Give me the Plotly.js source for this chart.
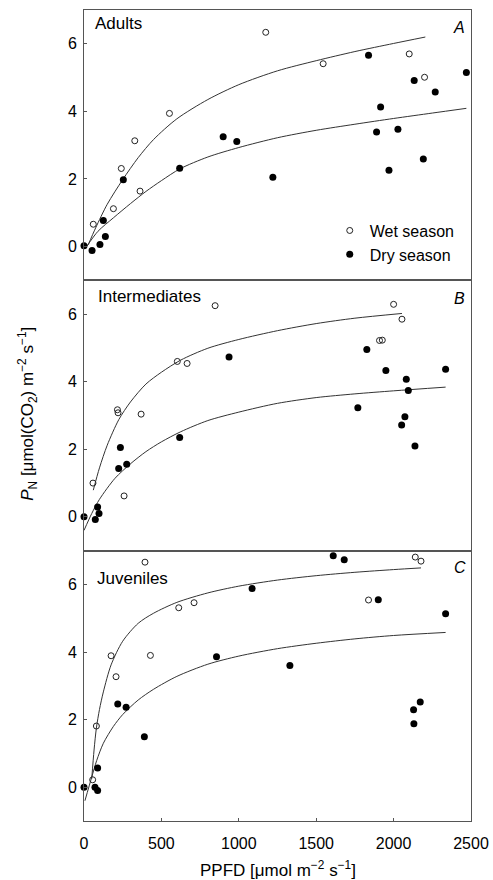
<!DOCTYPE html>
<html>
<head>
<meta charset="utf-8">
<script src="https://cdn.plot.ly/plotly-3.0.1.min.js"></script>
<style>html,body{margin:0;padding:0;background:#fff;}#chart{width:493px;height:880px;}</style>
</head>
<body>
<div id="chart"></div>
<script>
// ---- Data ----
const xTicks = [0, 500, 1000, 1500, 2000, 2500];
const yTicks = [0, 2, 4, 6];
const panelNames = ["Adults", "Intermediates", "Juveniles"];
const panelLetters = ["A", "B", "C"];
const seasonNames = ["Wet season", "Dry season"];

// Adults
const adultsWetX = [60, 190, 241, 328, 362, 552, 1174, 1545, 2101, 2200];
const adultsWetY = [0.66, 1.12, 2.31, 3.13, 1.64, 3.94, 6.34, 5.41, 5.70, 5.01];
const adultsDryX = [0, 52, 103, 125, 138, 254, 618, 899, 987, 1220, 1838, 1890, 1916, 1970, 2028, 2133, 2192, 2269, 2470];
const adultsDryY = [0.02, -0.12, 0.06, 0.77, 0.30, 1.98, 2.32, 3.25, 3.11, 2.05, 5.66, 3.39, 4.13, 2.26, 3.47, 4.91, 2.59, 4.57, 5.15];
const adultsWetFitX = [27, 75, 150, 250, 350, 450, 600, 800, 1000, 1250, 1500, 1750, 2000, 2205];
const adultsWetFitY = [0.05, 0.55, 1.25, 1.98, 2.63, 3.17, 3.78, 4.35, 4.79, 5.20, 5.50, 5.77, 6.01, 6.20];
const adultsDryFitX = [17, 90, 190, 300, 400, 500, 620, 800, 1000, 1250, 1500, 1750, 2000, 2250, 2470];
const adultsDryFitY = [0.00, 0.45, 0.85, 1.27, 1.63, 1.95, 2.30, 2.65, 2.93, 3.22, 3.44, 3.62, 3.79, 3.95, 4.09];

// Intermediates
const interWetX = [58, 216, 220, 259, 369, 603, 666, 847, 1909, 1927, 2000, 2054];
const interWetY = [1.00, 3.17, 3.08, 0.62, 3.04, 4.60, 4.54, 6.25, 5.22, 5.23, 6.29, 5.85];
const interDryX = [0, 73, 88, 97, 224, 235, 276, 618, 937, 1769, 1827, 1950, 2052, 2073, 2082, 2095, 2138, 2336];
const interDryY = [0.00, -0.08, 0.29, 0.10, 1.43, 2.05, 1.56, 2.35, 4.73, 3.23, 4.95, 4.33, 2.72, 2.96, 4.07, 3.74, 2.10, 4.37];
const interWetFitX = [60, 100, 150, 225, 300, 400, 500, 625, 800, 1000, 1250, 1500, 1750, 2054];
const interWetFitY = [0.79, 1.45, 2.12, 2.88, 3.40, 3.93, 4.28, 4.64, 4.99, 5.25, 5.51, 5.72, 5.88, 6.02];
const interDryFitX = [0, 50, 100, 200, 300, 400, 500, 625, 800, 1000, 1250, 1500, 1750, 2000, 2336];
const interDryFitY = [-0.40, 0.10, 0.52, 1.14, 1.57, 1.93, 2.22, 2.52, 2.85, 3.10, 3.36, 3.53, 3.64, 3.73, 3.84];

// Juveniles
const juvWetX = [56, 80, 175, 207, 394, 429, 612, 711, 1838, 2140, 2177];
const juvWetY = [0.22, 1.81, 3.89, 3.27, 6.66, 3.90, 5.31, 5.46, 5.54, 6.81, 6.69];
const juvDryX = [0, 71, 88, 88, 218, 272, 390, 856, 1086, 1330, 1610, 1681, 1901, 2129, 2131, 2172, 2336];
const juvDryY = [0.00, 0.00, 0.57, -0.10, 2.46, 2.37, 1.49, 3.86, 5.88, 3.60, 6.85, 6.73, 5.55, 2.29, 1.88, 2.52, 5.13];
const juvWetFitX = [50, 65, 80, 100, 125, 175, 250, 350, 450, 600, 800, 1000, 1250, 1500, 1750, 2000, 2177];
const juvWetFitY = [0.25, 1.10, 1.75, 2.30, 2.82, 3.62, 4.32, 4.85, 5.15, 5.47, 5.75, 5.95, 6.13, 6.26, 6.36, 6.44, 6.49];
const juvDryFitX = [6, 50, 82, 125, 190, 250, 350, 450, 600, 800, 1000, 1250, 1500, 1750, 2000, 2336];
const juvDryFitY = [-0.40, 0.30, 0.79, 1.30, 1.80, 2.15, 2.58, 2.90, 3.28, 3.64, 3.88, 4.10, 4.26, 4.39, 4.49, 4.58];

// ---- Build ----
const FONT = "Liberation Sans, Arial, Helvetica, sans-serif";
const panels = [
  {xa: "x3", ya: "y3", wx: adultsWetX, wy: adultsWetY, dx: adultsDryX, dy: adultsDryY,
   wfx: adultsWetFitX, wfy: adultsWetFitY, dfx: adultsDryFitX, dfy: adultsDryFitY, legend: true},
  {xa: "x2", ya: "y2", wx: interWetX, wy: interWetY, dx: interDryX, dy: interDryY,
   wfx: interWetFitX, wfy: interWetFitY, dfx: interDryFitX, dfy: interDryFitY, legend: false},
  {xa: "x", ya: "y", wx: juvWetX, wy: juvWetY, dx: juvDryX, dy: juvDryY,
   wfx: juvWetFitX, wfy: juvWetFitY, dfx: juvDryFitX, dfy: juvDryFitY, legend: false}
];

const traces = [];
panels.forEach(p => {
  traces.push({x: p.wfx, y: p.wfy, xaxis: p.xa, yaxis: p.ya, type: "scatter", mode: "lines",
    line: {color: "#333", width: 1, shape: "spline", smoothing: 0.8}, showlegend: false, hoverinfo: "skip"});
  traces.push({x: p.dfx, y: p.dfy, xaxis: p.xa, yaxis: p.ya, type: "scatter", mode: "lines",
    line: {color: "#333", width: 1, shape: "spline", smoothing: 0.8}, showlegend: false, hoverinfo: "skip"});
  traces.push({x: p.wx, y: p.wy, xaxis: p.xa, yaxis: p.ya, type: "scatter", mode: "markers",
    name: seasonNames[0], showlegend: p.legend, cliponaxis: false,
    marker: {symbol: "circle-open", size: 6, color: "#222", line: {width: 1, color: "#222"}}});
  traces.push({x: p.dx, y: p.dy, xaxis: p.xa, yaxis: p.ya, type: "scatter", mode: "markers",
    name: seasonNames[1], showlegend: p.legend, cliponaxis: false,
    marker: {symbol: "circle", size: 7, color: "#000"}});
});

const yBase = {range: [-1, 7], tickvals: yTicks, ticks: "inside", ticklen: 3, tickcolor: "#555",
  showline: true, linecolor: "#555", linewidth: 1, mirror: true, zeroline: false, showgrid: false,
  tickfont: {family: FONT, size: 16, color: "#000"}, ticklabelstandoff: 3, fixedrange: true};
const xBase = {range: [0, 2500], tickvals: xTicks, showline: true, linecolor: "#555", linewidth: 1,
  mirror: true, zeroline: false, showgrid: false, fixedrange: true};

const layout = {
  width: 493, height: 880,
  margin: {l: 84, r: 22, t: 10, b: 59},
  paper_bgcolor: "#fff", plot_bgcolor: "#fff",
  font: {family: FONT, size: 16, color: "#000"},
  xaxis: Object.assign({}, xBase, {anchor: "y", ticks: "inside", ticklen: 3, tickcolor: "#555",
    tickfont: {family: FONT, size: 16, color: "#000"}, ticklabelstandoff: 8}),
  xaxis2: Object.assign({}, xBase, {anchor: "y2", matches: "x", showticklabels: false, ticks: ""}),
  xaxis3: Object.assign({}, xBase, {anchor: "y3", matches: "x", showticklabels: false, ticks: ""}),
  yaxis: Object.assign({}, yBase, {domain: [0, 1/3], anchor: "x"}),
  yaxis2: Object.assign({}, yBase, {domain: [1/3, 2/3], anchor: "x2"}),
  yaxis3: Object.assign({}, yBase, {domain: [2/3, 1], anchor: "x3"}),
  showlegend: true,
  legend: {x: 0.635, y: 0.749, xanchor: "left", yanchor: "top", bgcolor: "rgba(0,0,0,0)",
    font: {family: FONT, size: 16, color: "#000"}, tracegroupgap: 0, itemwidth: 30},
  annotations: [
    {text: panelNames[0], xref: "paper", yref: "paper", x: 0.023, y: 0.983, xanchor: "left", yanchor: "middle", showarrow: false, font: {size: 17}},
    {text: panelNames[1], xref: "paper", yref: "paper", x: 0.031, y: 0.647, xanchor: "left", yanchor: "middle", showarrow: false, font: {size: 17}},
    {text: panelNames[2], xref: "paper", yref: "paper", x: 0.028, y: 0.299, xanchor: "left", yanchor: "middle", showarrow: false, font: {size: 17}},
    {text: "<i>" + panelLetters[0] + "</i>", xref: "paper", yref: "paper", x: 0.969, y: 0.978, xanchor: "center", yanchor: "middle", showarrow: false, font: {size: 16}},
    {text: "<i>" + panelLetters[1] + "</i>", xref: "paper", yref: "paper", x: 0.969, y: 0.644, xanchor: "center", yanchor: "middle", showarrow: false, font: {size: 16}},
    {text: "<i>" + panelLetters[2] + "</i>", xref: "paper", yref: "paper", x: 0.971, y: 0.312, xanchor: "center", yanchor: "middle", showarrow: false, font: {size: 16}},
    {text: "<i>P</i><sub>N</sub> [μmol(CO<sub>2</sub>) m<sup>−2</sup> s<sup>−1</sup>]", xref: "paper", yref: "paper",
      x: -0.145, y: 0.502, xanchor: "center", yanchor: "middle", textangle: -90, showarrow: false, font: {size: 17}},
    {text: "PPFD [μmol m<sup>−2</sup> s<sup>−1</sup>]", xref: "paper", yref: "paper",
      x: 0.5, y: -0.059, xanchor: "center", yanchor: "middle", showarrow: false, font: {size: 17}}
  ]
};

Plotly.newPlot("chart", traces, layout, {staticPlot: true, displayModeBar: false});
</script>
</body>
</html>
